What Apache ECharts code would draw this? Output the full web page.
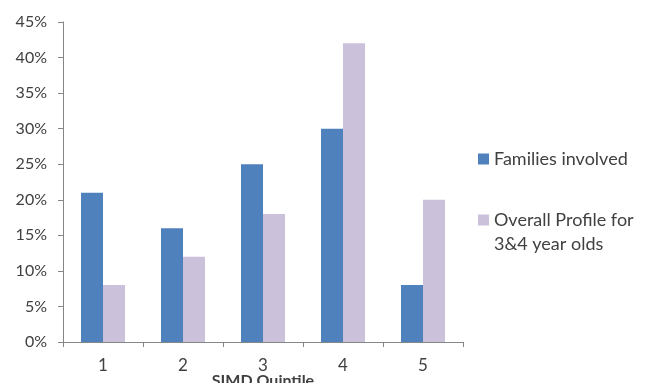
<!DOCTYPE html>
<html>
<head>
<meta charset="utf-8">
<script src="https://cdn.jsdelivr.net/npm/echarts@6/dist/echarts.min.js"></script>
<style>
  html, body { margin: 0; padding: 0; background: #fff; }
  #chart { width: 654px; height: 383px; }
</style>
</head>
<body>
<div id="chart"></div>
<script>
// SIMD quintiles and percentage shares per group
const quintiles = ['1', '2', '3', '4', '5'];
const familiesInvolved = [21, 16, 25, 30, 8];
const overallProfile = [8, 12, 18, 42, 20];
const yTicks = { min: 0, max: 45, step: 5 };

const FONT = 'Lato, "Open Sans", sans-serif';
const TEXT = '#404040';
const AXIS = '#868686';

const chart = echarts.init(document.getElementById('chart'));
chart.setOption({
  animation: false,
  backgroundColor: '#ffffff',
  grid: { left: 63, right: 191, top: 22, bottom: 41, containLabel: false, outerBoundsMode: 'none' },
  legend: [
    {
      data: ['Families involved'],
      orient: 'vertical',
      left: 473, top: 145,
      itemWidth: 11, itemHeight: 11,
      icon: 'rect',
      textStyle: { fontFamily: FONT, fontSize: 18, color: TEXT }
    },
    {
      data: ['Overall Profile for 3&4 year olds'],
      orient: 'vertical',
      left: 473, top: 179,
      itemWidth: 11, itemHeight: 11,
      icon: 'rect',
      // leading blank line keeps the swatch level with the first line of text
      formatter: () => ' \nOverall Profile for\n3&4 year olds',
      textStyle: { fontFamily: FONT, fontSize: 18, color: TEXT, lineHeight: 24 }
    }
  ],
  xAxis: {
    type: 'category',
    data: quintiles,
    name: 'SIMD Quintile',
    nameLocation: 'middle',
    nameGap: 31,
    nameMoveOverlap: false,
    nameTextStyle: { fontFamily: FONT, fontSize: 16, fontWeight: 'bold', color: TEXT },
    axisLine: { lineStyle: { color: AXIS } },
    axisTick: { show: true, length: 5, alignWithLabel: false, lineStyle: { color: AXIS } },
    axisLabel: { fontFamily: FONT, fontSize: 17, color: TEXT, margin: 15 }
  },
  yAxis: {
    type: 'value',
    min: yTicks.min, max: yTicks.max, interval: yTicks.step,
    axisLine: { show: true, lineStyle: { color: AXIS } },
    axisTick: { show: true, length: 5, lineStyle: { color: AXIS } },
    splitLine: { show: false },
    axisLabel: { formatter: '{value}%', fontFamily: FONT, fontSize: 16, color: TEXT, margin: 16 }
  },
  series: [
    {
      name: 'Families involved',
      type: 'bar',
      data: familiesInvolved,
      barWidth: 22,
      barGap: '0%',
      itemStyle: { color: '#4F81BD' }
    },
    {
      name: 'Overall Profile for 3&4 year olds',
      type: 'bar',
      data: overallProfile,
      barWidth: 22,
      itemStyle: { color: '#CCC1DA' }
    }
  ]
});
</script>
</body>
</html>
